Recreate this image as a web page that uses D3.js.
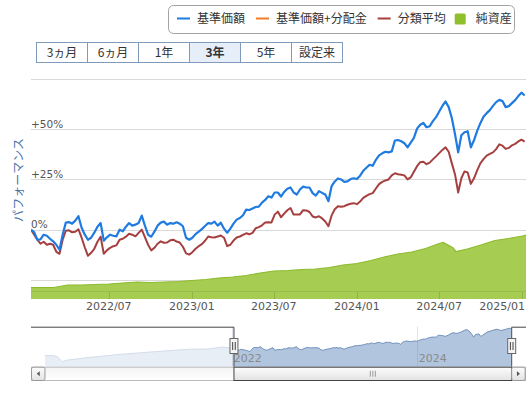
<!DOCTYPE html>
<html>
<head>
<meta charset="utf-8">
<script src="https://cdn.jsdelivr.net/npm/d3@7"></script>
<style>
  body { margin: 0; background: #fff; }
  svg { display: block; font-family: "DejaVu Sans", sans-serif; }
  .jp { font-family: "Noto Sans CJK JP", sans-serif; }
</style>
</head>
<body>
<svg id="chart" width="532" height="399"></svg>
<script>
// weekly series, first week = startDate
const startDate = "2022-01-10";
const endDate = "2025-01-09";

// 基準価額 (performance, %)
const basePerf = [0,-1.2,-5,-4.8,-2.5,-3,-4.5,-5.8,-7.5,-10, -2.5,3.5,3.8,3,4.5,6.7,1,-2.5,-5,-4,
  -1.5,1.5,3.3,-5.5,-3.8,-2.5,-3,-3.3,0, -0.8,1.5,3.3,2,2.5,3.3,7,2,-2.5,-3.5,
  -1,2,3.5,4,2.5,3.3,3,3.7,3,1.7, -4,-5,-4,-2.2,-1,0.3,1.8,3.3,3,4,
  2,3.5,0.5,-1.5,0.5,3,5,5.8,7.2,10, 9.8,10.5,11.3,11.5,13.5,14.8,16.6,16,18.5,18.5,
  16.5,18.8,20.4,21,18.5,17.5,20,21.4,21, 21,18.2,17,19.2,18.3,17.5,14.2,21.7,24,25.5,
  25,23.8,24,25.2,25.6,25.2,26.9,29.3,30.8,32.3, 31.8,34.8,37,38,38.8,38.5,39,44.4,44.6,44,
  43,41,43.3,45.7,50.3,52.2,53.1,51,51.5,54, 56,58.8,61.6,63.8,61,55.5,47.5,38.5,47,48.5,
  49,41,44.5,49.2,53,56.2,58,59.5,61.6, 63.5,64.6,64,61,61.5,63,64.5,66.5,68.2,66.8];

// 分類平均 (performance, %)
const categoryAvg = [0,-2.5,-5,-7,-6,-7.5,-7,-7.5,-11,-12, -5,-0.5,-0.3,-1.3,-1,0.2,-4,-8.8,-13,-11.5,
  -9.5,-6,-3.5,-12,-10.3,-9,-8.2,-7.8,-5, -4.5,-3.5,-2,-2.5,-3.3,-1.6,0,-3.7,-7.5,-10.3,
  -9,-7,-5.8,-6.5,-6.4,-5.3,-5,-5.9,-6.4,-8.5, -11.8,-12.4,-11.2,-9.5,-8.2,-7.2,-5.5,-3.4,-3.8,-3.9,
  -3.4,-2.9,-4,-8.2,-7.5,-5.4,-3.9,-3.4,-2.6,-1.8, -2.3,-1.6,0.7,1.3,2.2,3.6,3.7,3.6,7.5,9,
  6.2,8,9.7,10.8,7.5,7.6,7.6,9.7,9.6, 8.8,6.6,6.1,6.7,5.6,4.1,1.7,7.1,10.2,11.7,
  11.4,11.7,12.4,12.9,13.2,12.7,14,15.8,16.8,17.7, 18.2,20.5,22.7,23.8,24.5,25,27,28.1,27.6,27.4,
  27,25,26,28.8,31.6,33.6,33.8,32.6,33.4,35, 36.5,38.1,39.7,41,38.8,33,27.5,18.5,25.6,29,
  28.5,22.8,25.6,29.5,33,35.1,36.9,37.7,38.5, 40.1,42.5,41.8,40.2,40.7,42,42.7,43.9,44.8,43.8];

// 純資産 (億円)
const netAssetDates = ["2022-01-10","2022-02-01","2022-03-01","2022-04-01","2022-05-01","2022-06-01",
  "2022-07-01","2022-08-01","2022-09-01","2022-10-01","2022-11-01","2022-12-01",
  "2023-01-01","2023-02-01","2023-03-01","2023-04-01","2023-05-01","2023-06-01",
  "2023-07-01","2023-08-01","2023-09-01","2023-10-01","2023-11-01","2023-12-01",
  "2024-01-01","2024-02-01","2024-03-01","2024-04-01","2024-05-01","2024-06-01",
  "2024-07-01","2024-07-10","2024-08-01","2024-08-07","2024-09-01","2024-10-01",
  "2024-11-01","2024-12-01","2025-01-01","2025-01-09"];
const netAssets = [23,23,23,28,28,29,30,32,34,33,34,35, 37,39,42,44,47,52,56,57,59,60,63,68,
  71,77,84,90,94,101,111,113,102,95,100,108,117,121,126,128];

// navigator: 基準価額 (円) before the selected range
const navPriorDates = ["2019-12-27","2020-01-24","2020-02-14","2020-03-04","2020-03-23","2020-06-10",
  "2020-10-20","2021-03-03","2021-07-14","2021-10-01","2021-11-24","2022-01-05"];
const navPrior = [11500,11600,11000,8500,9300,10500,12200,13500,14700,14850,15800,15300];
const navStartValue = 15000;
const navFirstDate = "2019-12-27";

const yTicks = [-25, 0, 25, 50, 75];
const rangeButtons = ["3ヵ月", "6ヵ月", "1年", "3年", "5年", "設定来"];
const activeButton = "3年";
const legendItems = [
  {name: "基準価額", color: "#1f7be0", type: "line"},
  {name: "基準価額+分配金", color: "#f07b22", type: "line"},
  {name: "分類平均", color: "#a63f3f", type: "line"},
  {name: "純資産", color: "#8fbf2a", type: "box"}
];

const parse = d3.timeParse("%Y-%m-%d");
const start = parse(startDate);
const weekDates = basePerf.map((_, i) => d3.timeDay.offset(start, 7 * i));

const svg = d3.select("#chart");
const defs = svg.append("defs");

const plot = {left: 31, right: 526, top: 79, bottom: 299};

const x = d3.scaleTime().domain([start, parse(endDate)]).range([plot.left, plot.right]);
const y = d3.scaleLinear().domain([-34.5, 75]).range([plot.bottom, plot.top]);
const yNet = d3.scaleLinear().domain([0, 440]).range([plot.bottom, plot.top]);

defs.append("clipPath").attr("id", "plotClip").append("rect")
  .attr("x", plot.left).attr("y", plot.top)
  .attr("width", plot.right - plot.left).attr("height", plot.bottom - plot.top);

// --- legend ---
const legend = svg.append("g").attr("class", "jp");
legend.append("rect")
  .attr("x", 168.5).attr("y", 5.5).attr("width", 346).attr("height", 28).attr("rx", 5)
  .attr("fill", "#fff").attr("stroke", "#a3a3a3");
let lx = 177;
legendItems.forEach(item => {
  if (item.type === "line") {
    legend.append("line").attr("x1", lx).attr("x2", lx + 13).attr("y1", 18.5).attr("y2", 18.5)
      .attr("stroke", item.color).attr("stroke-width", 2);
    lx += 20;
  } else {
    legend.append("rect").attr("x", lx - 2).attr("y", 13.5).attr("width", 11).attr("height", 11)
      .attr("rx", 1.5).attr("fill", item.color);
    lx += 19;
  }
  const t = legend.append("text").attr("x", lx).attr("y", 22.8)
    .attr("font-size", 12).attr("fill", "#333").text(item.name);
  lx += t.node().getComputedTextLength() + 11;
});

// --- range buttons ---
const bx = d3.scaleBand().domain(rangeButtons).range([36, 342]);
const btn = svg.append("g").attr("class", "jp").selectAll("g").data(rangeButtons).enter().append("g");
btn.append("rect")
  .attr("x", d => bx(d) + 0.5).attr("y", 42.5).attr("width", bx.bandwidth()).attr("height", 20)
  .attr("fill", d => d === activeButton ? "#e5eef9" : "#fff")
  .attr("stroke", "#7f9bbb");
btn.append("text")
  .attr("x", d => bx(d) + bx.bandwidth() / 2 + 0.5).attr("y", 57)
  .attr("text-anchor", "middle").attr("font-size", 12)
  .attr("font-weight", d => d === activeButton ? "bold" : "normal")
  .attr("fill", "#333").text(d => d);

// --- grid ---
svg.append("g").selectAll("line").data(yTicks).enter().append("line")
  .attr("x1", plot.left).attr("x2", plot.right)
  .attr("y1", d => Math.round(y(d)) + 0.5).attr("y2", d => Math.round(y(d)) + 0.5)
  .attr("stroke", "#d9d9d9");

// --- net assets area ---
const netData = netAssetDates.map((d, i) => ({date: parse(d), v: netAssets[i]}));
const g = svg.append("g").attr("clip-path", "url(#plotClip)");
g.append("path").datum(netData)
  .attr("fill", "#a6cd52")
  .attr("d", d3.area().x(d => x(d.date)).y0(plot.bottom).y1(d => yNet(d.v)));
g.append("path").datum(netData)
  .attr("fill", "none").attr("stroke", "#8dba2c").attr("stroke-width", 1.2)
  .attr("d", d3.line().x(d => x(d.date)).y(d => yNet(d.v)));
// pane line inside the area
g.append("line").attr("x1", plot.left).attr("x2", plot.right)
  .attr("y1", plot.bottom - 7.5).attr("y2", plot.bottom - 7.5)
  .attr("stroke", "rgba(0,0,0,0.08)");

// x ticks
const xTicks = x.ticks(d3.timeMonth.every(6)).filter(d => d.getMonth() % 6 === 0);
g.selectAll(".tick").data(xTicks).enter().append("line")
  .attr("x1", d => Math.round(x(d)) + 0.5).attr("x2", d => Math.round(x(d)) + 0.5)
  .attr("y1", plot.bottom - 7).attr("y2", plot.bottom)
  .attr("stroke", "rgba(0,0,0,0.12)");

// --- performance lines ---
const line = d3.line().x((d, i) => x(weekDates[i])).y(d => y(d));
g.append("path").datum(categoryAvg)
  .attr("fill", "none").attr("stroke", "#a63f3f").attr("stroke-width", 2)
  .attr("stroke-linejoin", "round").attr("d", line);
g.append("path").datum(basePerf)
  .attr("fill", "none").attr("stroke", "#1f7be0").attr("stroke-width", 2.2)
  .attr("stroke-linejoin", "round").attr("d", line);

// --- axis labels ---
const fmt = d3.timeFormat("%Y/%m");
const xl = svg.append("g").selectAll("text").data(xTicks).enter().append("text")
  .attr("x", d => x(d)).attr("y", 310)
  .attr("text-anchor", "middle").attr("font-size", 11).attr("fill", "#555")
  .text(d => fmt(d));
xl.each(function(d) {
  const w = this.getComputedTextLength();
  if (x(d) + w / 2 > plot.right) {
    d3.select(this).attr("text-anchor", "end").attr("x", plot.right - 1);
  }
});

svg.append("g").selectAll("text").data(yTicks.filter(v => v >= 0 && v < 75)).enter().append("text")
  .attr("x", 31).attr("y", d => y(d) - 1.5)
  .attr("font-size", 10.5).attr("fill", "#555")
  .text(d => d === 0 ? "0%" : "+" + d + "%");

svg.append("text").attr("class", "jp")
  .attr("transform", "translate(23,180) rotate(-90)")
  .attr("text-anchor", "middle").attr("font-size", 12).attr("fill", "#4a74a8")
  .text("パフォーマンス");

// --- navigator ---
const nav = {left: 45, right: 511.7, top: 326.7, bottom: 366.7};
const nx = d3.scaleTime().domain([parse(navFirstDate), parse(endDate)]).range([nav.left, nav.right]);
const ny = d3.scaleLinear().domain([navStartValue * 0.4, navStartValue * 1.75]).range([nav.bottom, 326.2]);

const priorData = navPriorDates.map((d, i) => ({date: parse(d), v: navPrior[i]}));
const selData = basePerf.map((p, i) => ({date: weekDates[i], v: navStartValue * (1 + p / 100)}));
const navArea = d3.area().x(d => nx(d.date)).y0(nav.bottom).y1(d => ny(d.v));
const navLine = d3.line().x(d => nx(d.date)).y(d => ny(d.v));

const selL = nx(start), selR = nav.right;

svg.append("path").datum(priorData.concat([selData[0]]))
  .attr("fill", "#e8eef5").attr("d", navArea);
svg.append("path").datum(priorData.concat([selData[0]]))
  .attr("fill", "none").attr("stroke", "#d3dde9").attr("d", navLine);
svg.append("path").datum(selData)
  .attr("fill", "#b2c5de").attr("d", navArea);
svg.append("path").datum(selData)
  .attr("fill", "none").attr("stroke", "#6f8fbb").attr("d", navLine);

const navTicks = nx.ticks(d3.timeYear.every(2)).filter(d => nx(d) > nav.left + 20);
svg.append("g").selectAll("line").data(navTicks).enter().append("line")
  .attr("x1", d => Math.round(nx(d)) + 0.5).attr("x2", d => Math.round(nx(d)) + 0.5)
  .attr("y1", nav.top).attr("y2", nav.bottom)
  .attr("stroke", "rgba(120,140,170,0.25)");
svg.append("g").selectAll("text").data(navTicks).enter().append("text")
  .attr("x", d => nx(d) + 2).attr("y", 362)
  .attr("font-size", 11).attr("fill", "#8a8a8a")
  .text(d => d3.timeFormat("%Y")(d));

// outline
svg.append("path")
  .attr("d", `M${plot.left},${nav.top + 0.5}H${selL}V${nav.bottom}M${selR},${nav.bottom}V${nav.top + 0.5}H${plot.right}`)
  .attr("fill", "none").attr("stroke", "#444");

// scrollbar
const grad = defs.append("linearGradient").attr("id", "sb").attr("x1", 0).attr("x2", 0).attr("y1", 0).attr("y2", 1);
grad.append("stop").attr("offset", 0).attr("stop-color", "#fdfdfd");
grad.append("stop").attr("offset", 1).attr("stop-color", "#e2e2e2");
const trackG = defs.append("linearGradient").attr("id", "tr").attr("x1", 0).attr("x2", 0).attr("y1", 0).attr("y2", 1);
trackG.append("stop").attr("offset", 0).attr("stop-color", "#f4f4f4");
trackG.append("stop").attr("offset", 1).attr("stop-color", "#ffffff");

const sbTop = nav.bottom, sbH = 13.3;
svg.append("rect").attr("x", plot.left + 0.5).attr("y", sbTop + 0.5)
  .attr("width", plot.right - plot.left - 1).attr("height", sbH)
  .attr("fill", "url(#tr)").attr("stroke", "#bbb");
svg.append("rect").attr("x", selL).attr("y", sbTop + 0.5)
  .attr("width", selR - selL).attr("height", sbH)
  .attr("fill", "url(#sb)").attr("stroke", "#444");
[0, 2.5, 5].forEach(o => {
  svg.append("line").attr("x1", (selL + selR) / 2 - 2.5 + o).attr("x2", (selL + selR) / 2 - 2.5 + o)
    .attr("y1", sbTop + 4).attr("y2", sbTop + 10).attr("stroke", "#999");
});
[[plot.left + 0.5, -1], [selR, 1]].forEach(([bxp, dir]) => {
  svg.append("rect").attr("x", bxp).attr("y", sbTop + 0.5).attr("width", 13.5).attr("height", sbH)
    .attr("rx", 2).attr("fill", "url(#sb)").attr("stroke", "#999");
  const cx = bxp + 6.75, cy = sbTop + 7;
  svg.append("path")
    .attr("d", `M${cx - dir * 1.5},${cy - 2.5}L${cx + dir * 1.5},${cy}L${cx - dir * 1.5},${cy + 2.5}Z`)
    .attr("fill", "#555");
});

// handles
[selL, selR].forEach(hx => {
  svg.append("rect").attr("x", hx - 4).attr("y", 338.5).attr("width", 8).attr("height", 15)
    .attr("fill", "#f4f4f4").attr("stroke", "#666");
  [-1.3, 1.3].forEach(o => {
    svg.append("line").attr("x1", hx + o).attr("x2", hx + o).attr("y1", 342).attr("y2", 350)
      .attr("stroke", "#444");
  });
});
</script>
</body>
</html>
